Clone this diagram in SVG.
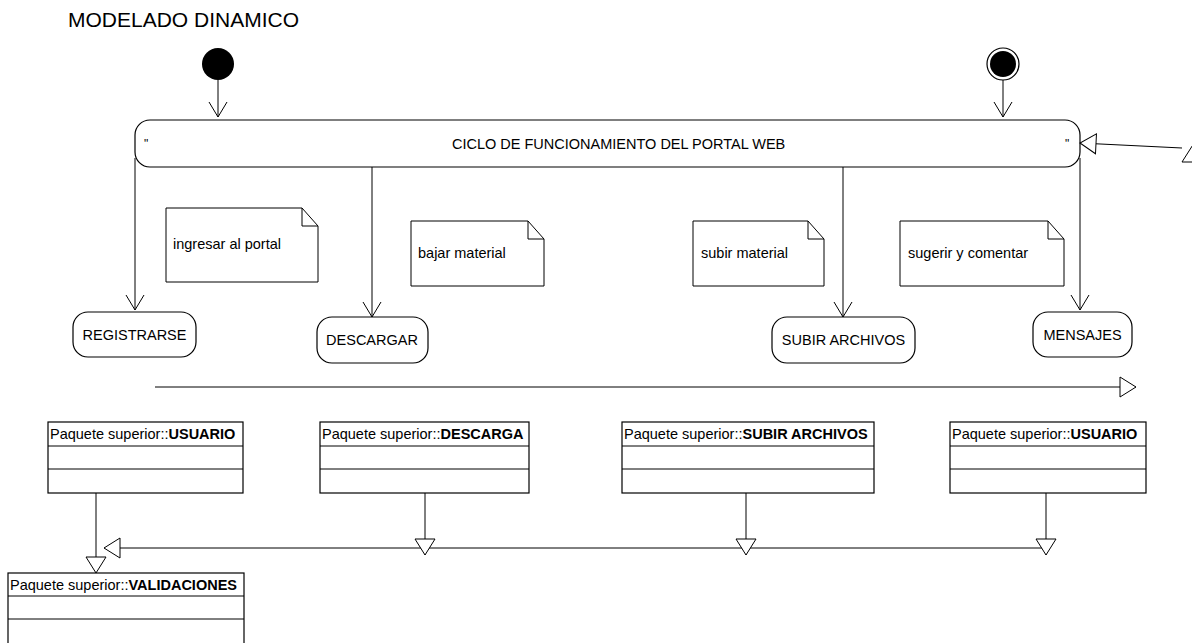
<svg xmlns="http://www.w3.org/2000/svg" width="1192" height="643" viewBox="0 0 1192 643">
  <style>
    text { font-family: "Liberation Sans", Arial, sans-serif; fill: #000; }
    .t { font-size: 14.5px; }
    .b { font-weight: bold; }
    .node { fill: #fff; stroke: #000; stroke-width: 1.2; }
    .note { fill: #fff; stroke: #000; stroke-width: 1; }
    .cls { fill: #fff; stroke: #000; stroke-width: 1.2; }
    .edge { fill: none; stroke: #000; stroke-width: 1; }
  </style>
  <defs>
    <marker id="open" markerUnits="userSpaceOnUse" markerWidth="18" markerHeight="20" refX="15" refY="9" orient="auto" overflow="visible">
      <path d="M0,0 L15,9 L0,18" fill="none" stroke="#000" stroke-width="1"/>
    </marker>
    <marker id="gen" markerUnits="userSpaceOnUse" markerWidth="18" markerHeight="22" refX="16" refY="10" orient="auto" overflow="visible">
      <path d="M0,0 L16,10 L0,20 Z" fill="#fff" stroke="#000" stroke-width="1"/>
    </marker>
  </defs>

  <text x="68" y="27" style="font-size:21px">MODELADO DINAMICO</text>

  <!-- start and end states -->
  <g id="start"><circle cx="218" cy="64" r="16" fill="#000"/></g>
  <g id="end">
    <circle cx="1003" cy="64" r="16" fill="#fff" stroke="#000" stroke-width="1.2"/>
    <circle cx="1003" cy="64" r="13" fill="#000"/>
  </g>

  <!-- main activity bar -->
  <g id="ciclo">
    <rect class="node" x="135" y="120" width="945" height="47" rx="15" ry="15" stroke-width="1.5"/>
    <text class="t" x="144" y="148" style="font-size:12px">"</text>
    <text class="t" x="1065" y="148" style="font-size:12px">"</text>
    <text class="t" x="452" y="149">CICLO DE FUNCIONAMIENTO DEL PORTAL WEB</text>
  </g>

  <!-- notes -->
  <g id="note-ingresar">
    <path class="note" d="M166,208 H302 L318,226 V282 H166 Z M302,208 V226 H318"/>
    <text class="t" x="173" y="249">ingresar al portal</text>
  </g>
  <g id="note-bajar">
    <path class="note" d="M411,221 H528 L544,239 V286 H411 Z M528,221 V239 H544"/>
    <text class="t" x="418" y="258">bajar material</text>
  </g>
  <g id="note-subir">
    <path class="note" d="M693,221 H808 L824,239 V286 H693 Z M808,221 V239 H824"/>
    <text class="t" x="701" y="258">subir material</text>
  </g>
  <g id="note-sugerir">
    <path class="note" d="M900,221 H1048 L1064,239 V286 H900 Z M1048,221 V239 H1064"/>
    <text class="t" x="908" y="258">sugerir y comentar</text>
  </g>

  <!-- action states -->
  <g id="registrarse">
    <rect class="node" x="73" y="312" width="123" height="45" rx="15" ry="15"/>
    <text class="t" x="134.5" y="340" text-anchor="middle">REGISTRARSE</text>
  </g>
  <g id="descargar">
    <rect class="node" x="317" y="317" width="111" height="46" rx="15" ry="15"/>
    <text class="t" x="372" y="345" text-anchor="middle">DESCARGAR</text>
  </g>
  <g id="subir-archivos">
    <rect class="node" x="772" y="317" width="143" height="46" rx="15" ry="15"/>
    <text class="t" x="843.5" y="345" text-anchor="middle">SUBIR ARCHIVOS</text>
  </g>
  <g id="mensajes">
    <rect class="node" x="1033" y="312" width="99" height="45" rx="15" ry="15"/>
    <text class="t" x="1082.5" y="339.5" text-anchor="middle">MENSAJES</text>
  </g>

  <!-- classes -->
  <g id="cls-usuario-1">
    <rect class="cls" x="48" y="422" width="195" height="71"/>
    <path class="edge" d="M48,446 H243 M48,469 H243" stroke-width="1.2"/>
    <text class="t" x="50" y="439">Paquete superior::<tspan class="b">USUARIO</tspan></text>
  </g>
  <g id="cls-descarga">
    <rect class="cls" x="320" y="422" width="209" height="71"/>
    <path class="edge" d="M320,446 H529 M320,469 H529" stroke-width="1.2"/>
    <text class="t" x="322" y="439">Paquete superior::<tspan class="b">DESCARGA</tspan></text>
  </g>
  <g id="cls-subir">
    <rect class="cls" x="622" y="422" width="252" height="71"/>
    <path class="edge" d="M622,446 H874 M622,469 H874" stroke-width="1.2"/>
    <text class="t" x="624" y="439">Paquete superior::<tspan class="b">SUBIR ARCHIVOS</tspan></text>
  </g>
  <g id="cls-usuario-2">
    <rect class="cls" x="950" y="422" width="196" height="71"/>
    <path class="edge" d="M950,446 H1146 M950,469 H1146" stroke-width="1.2"/>
    <text class="t" x="952" y="439">Paquete superior::<tspan class="b">USUARIO</tspan></text>
  </g>
  <g id="cls-validaciones">
    <rect class="cls" x="8" y="573" width="236" height="72"/>
    <path class="edge" d="M8,596 H244 M8,619 H244" stroke-width="1.2"/>
    <text class="t" x="10" y="590">Paquete superior::<tspan class="b">VALIDACIONES</tspan></text>
  </g>

  <!-- connectors -->
  <g id="connectors">
    <line class="edge" x1="218" y1="80" x2="218" y2="117" marker-end="url(#open)"/>
    <line class="edge" x1="1003" y1="80" x2="1003" y2="117" marker-end="url(#open)"/>
    <line class="edge" x1="135" y1="158" x2="135" y2="310" marker-end="url(#open)"/>
    <line class="edge" x1="372" y1="167" x2="372" y2="317" marker-end="url(#open)"/>
    <line class="edge" x1="843" y1="167" x2="843" y2="317" marker-end="url(#open)"/>
    <line class="edge" x1="1080" y1="158" x2="1080" y2="310" marker-end="url(#open)"/>
    <line class="edge" x1="1182" y1="148" x2="1080" y2="143" marker-end="url(#gen)"/>
    <polygon points="1182,162 1196,140 1210,162" fill="#fff" stroke="#000" stroke-width="1"/>
    <line class="edge" x1="155" y1="387" x2="1136" y2="387" marker-end="url(#gen)"/>
    <line class="edge" x1="1046" y1="548" x2="104" y2="548" marker-end="url(#gen)"/>
    <line class="edge" x1="96" y1="493" x2="96" y2="573" marker-end="url(#gen)"/>
    <line class="edge" x1="425" y1="493" x2="425" y2="555" marker-end="url(#gen)"/>
    <line class="edge" x1="746" y1="493" x2="746" y2="555" marker-end="url(#gen)"/>
    <line class="edge" x1="1046" y1="493" x2="1046" y2="555" marker-end="url(#gen)"/>
  </g>
</svg>
